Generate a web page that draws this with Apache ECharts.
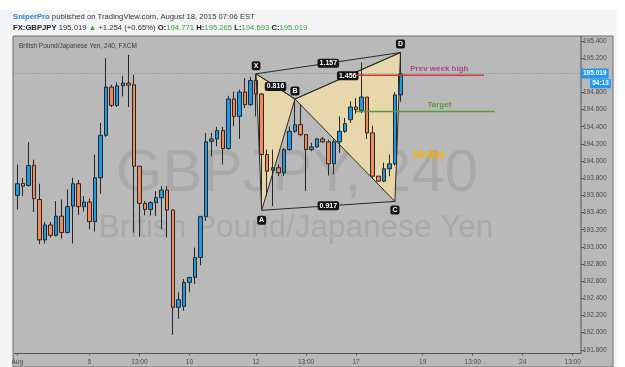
<!DOCTYPE html>
<html><head><meta charset="utf-8">
<script src="https://cdn.jsdelivr.net/npm/echarts@6/dist/echarts.min.js"></script>
<style>html,body{margin:0;padding:0;background:#fff;}#c{width:625px;height:367px;}</style>
</head><body><div id="c"></div>
<script>
// 4-hour slots (GBPJPY, FXCM), early Aug 2015 onwards
const categories = Array.from({length: 102}, (_, i) => String(i));
const tickIndex = [0, 13, 22, 31, 43, 52, 61, 73, 82, 91, 100];
const tickText  = ['Aug', '5', '13:00', '10', '12', '13:00', '17', '19', '13:00', '24', '13:00'];

const open  = [193.600,193.739,193.716,193.952,193.553,193.081,193.255,193.135,193.359,193.167,
               193.476,193.736,193.469,193.522,193.294,193.805,194.300,194.862,194.649,194.877,
               194.909,194.889,193.940,193.507,193.437,193.515,193.573,193.661,193.429,192.296,
               192.307,192.586,192.644,192.876,193.352,194.230,194.258,194.355,194.146,194.723,
               194.521,194.804,194.657,194.939,194.781,194.076,193.894,193.922,193.863,194.134,
               194.347,194.424,194.308,194.134,194.165,194.258,194.224,193.968,194.224,194.347,
               194.482,194.630,194.590,194.746,194.328,193.824,193.766,193.910,193.968,194.771];
const high  = [193.960,193.805,194.219,194.018,193.736,193.290,193.290,193.534,193.553,193.669,
               193.805,193.778,193.592,193.562,194.076,194.444,195.199,194.889,194.916,194.994,
               195.237,195.005,193.940,193.534,193.534,193.650,193.708,193.708,193.437,192.470,
               192.624,192.648,192.992,193.359,194.328,194.328,194.398,194.398,194.761,194.811,
               194.831,194.967,194.978,195.017,194.793,194.134,194.134,193.960,194.154,194.405,
               194.715,194.657,194.308,194.212,194.270,194.282,194.250,194.250,194.521,194.502,
               194.695,194.734,195.148,194.746,194.413,193.824,193.980,194.076,194.804,195.265];
const low   = [193.437,193.592,193.704,193.406,193.031,193.039,193.109,193.120,193.097,193.158,
               193.039,193.371,193.411,193.205,193.178,193.620,194.282,194.630,194.630,194.753,
               194.630,193.167,193.116,193.368,193.368,193.360,193.205,193.109,191.974,192.160,
               192.256,192.477,192.566,192.787,193.301,194.056,194.172,193.960,194.134,194.405,
               194.258,194.618,194.645,194.521,193.450,193.592,193.476,193.824,193.824,194.122,
               194.328,194.289,193.650,194.114,194.154,194.212,193.832,193.844,194.096,194.328,
               194.444,194.552,194.560,194.258,193.805,193.759,193.754,193.824,193.948,194.693];
const close = [193.736,193.708,193.948,193.562,193.081,193.255,193.135,193.359,193.167,193.469,
               193.736,193.469,193.522,193.294,193.805,194.300,194.862,194.649,194.877,194.909,
               194.885,193.940,193.507,193.437,193.515,193.573,193.661,193.429,192.296,192.384,
               192.586,192.644,192.876,193.352,194.224,194.258,194.355,194.146,194.723,194.521,
               194.804,194.657,194.939,194.781,194.076,193.882,193.922,193.863,194.134,194.347,
               194.424,194.308,194.134,194.165,194.258,194.224,193.968,194.224,194.347,194.436,
               194.630,194.599,194.746,194.328,193.824,193.766,193.910,193.968,194.771,195.019];

const priceMin = 191.6, priceMax = 195.6, priceStep = 0.2;
const lastPrice = 195.019;
const countdown = '54:13';

const pointNames = ['X', 'A', 'B', 'C', 'D'];
const pointIndex = [43, 44, 50, 68, 69];
const pointPrice = [195.017, 193.426, 194.723, 193.530, 195.265];
const ratioText  = ['0.816', '1.157', '1.456', '0.917'];   // X-B, X-D, B-D, A-C

const levelName  = ['Prev week high', 'Target'];
const levelPrice = [195.000, 194.579];
const levelFrom  = [61, 61];
const levelTo    = [84, 86];
const levelLabelAt = [76, 76];
const patternName = 'Alt Bat';
const patternLabelAt = [74, 194.07];

const tickMap = {}; tickIndex.forEach((k, j) => tickMap[k] = tickText[j]);
const candleData = open.map((o, i) => [o, close[i], low[i], high[i]]);
const pt = i => [pointIndex[i], pointPrice[i]];
const triData = [[0,1,2],[2,3,4]].map(t => [...pt(t[0]), ...pt(t[1]), ...pt(t[2])]);
const legData = [[0,2],[0,4],[2,4],[1,3]].map(p => [...pt(p[0]), ...pt(p[1])]);
const pointData = pointIndex.map((k, i) => [k, pointPrice[i]]);
const levelData = levelPrice.map((p, i) => [levelFrom[i], levelTo[i], p, levelLabelAt[i]]);

const FF = 'Liberation Sans';
const HF = 7.7;
const tag = (txt, x, y, fs) => ({type: 'text', x: x, y: y, z2: 20,
  style: {text: txt, fill: '#fff', fontSize: fs || 7, fontWeight: 'bold', fontFamily: FF,
          align: 'center', verticalAlign: 'middle', backgroundColor: '#151515',
          padding: [1, 2], borderRadius: 2}});

const chart = echarts.init(document.getElementById('c'));
chart.setOption({
  animation: false,
  backgroundColor: '#ffffff',
  textStyle: {fontFamily: FF},
  grid: [
    {left: 14.5, right: 44, top: 23.78, height: 344.4},
    {left: 14.5, right: 44, top: 352.5, height: 1}
  ],
  xAxis: [
    {type: 'category', gridIndex: 0, data: categories, boundaryGap: true, show: false},
    {type: 'category', gridIndex: 1, data: categories, boundaryGap: true,
     axisLine: {lineStyle: {color: '#555', width: 1}},
     axisTick: {show: true, alignWithLabel: true, length: 2, interval: i => tickMap[i] !== undefined, lineStyle: {color: '#555'}},
     axisLabel: {interval: i => tickMap[i] !== undefined, formatter: (v, i) => tickMap[i] || '',
                 fontSize: 6.5, color: '#4a4a4a', margin: 5, fontFamily: FF},
     splitLine: {show: false}}
  ],
  yAxis: [
    {type: 'value', gridIndex: 0, position: 'right', min: priceMin, max: priceMax, interval: priceStep,
     axisLine: {show: false}, splitLine: {show: false},
     axisTick: {show: true, length: 3, lineStyle: {color: '#555'}},
     axisLabel: {fontSize: 6.5, color: '#4a4a4a', margin: 2, fontFamily: FF,
                 formatter: v => (v < 191.7 || v > 195.5) ? '' : v.toFixed(3)}},
    {type: 'value', gridIndex: 1, show: false}
  ],
  graphic: [
    {type: 'rect', z: 0, shape: {x: 0, y: 10, width: 617, height: 357}, style: {fill: '#f3f4f6'}, silent: true},
    {type: 'rect', z: 0, shape: {x: 13, y: 36, width: 600, height: 331}, style: {fill: '#b9b9b9', stroke: '#6f6f6f', lineWidth: 1}, silent: true},
    {type: 'line', z: 1, shape: {x1: 581, y1: 36, x2: 581, y2: 353}, style: {stroke: '#555', lineWidth: 1}, silent: true},
    {type: 'text', z: 1, style: {x: 297, y: 174, text: 'GBPJPY, 240', fontSize: 60, fontFamily: FF, fill: 'rgba(0,0,0,0.085)', align: 'center', verticalAlign: 'middle'}, silent: true},
    {type: 'text', z: 1, style: {x: 296, y: 228, text: 'British Pound/Japanese Yen', fontSize: 31.5, fontFamily: FF, fill: 'rgba(0,0,0,0.085)', align: 'center', verticalAlign: 'middle'}, silent: true},
    {type: 'text', z: 5, style: {x: 19, y: 46, text: 'British Pound/Japanese Yen, 240, FXCM', fontSize: 6.5, fontFamily: FF, fill: '#3a3a3a', verticalAlign: 'middle'}},
    {type: 'rect', z: 100, shape: {x: 578, y: 14, width: 14, height: 20}, style: {fill: '#f3f4f6'}, silent: true},
    {type: 'text', z: 101, style: {x: 13, y: 16.5, text: '{n|SniperPro} published on TradingView.com, August 18, 2015 07:06 EST',
      fontSize: HF, fontFamily: FF, fill: '#333', verticalAlign: 'middle',
      rich: {n: {fill: '#2a86d3', fontSize: HF, fontFamily: FF, fontWeight: 'bold'}}}},
    {type: 'text', z: 101, style: {x: 13, y: 28, text: '{b|FX:GBPJPY} 195.019 {g|▲} +1.254 (+0.65%) {b|O:}{g|194.771} {b|H:}{g|195.265} {b|L:}{g|194.693} {b|C:}{g|195.019}',
      fontSize: HF, fontFamily: FF, fill: '#333', verticalAlign: 'middle',
      rich: {b: {fill: '#222', fontSize: HF, fontFamily: FF, fontWeight: 'bold'}, g: {fill: '#34a534', fontSize: HF, fontFamily: FF}}}},
    {type: 'text', z: 101, style: {x: 600.5, y: 83.7, text: countdown, fontSize: 6.5, fontFamily: FF, fill: '#fff', fontWeight: 'bold',
      backgroundColor: '#2196f3', padding: [1, 2], align: 'center', verticalAlign: 'middle'}}
  ],
  series: [
    {type: 'custom', name: 'pattern', xAxisIndex: 0, yAxisIndex: 0, z: 2, data: triData,
     encode: {x: [0, 2, 4], y: [1, 3, 5]},
     renderItem: (params, api) => {
       const pts = [0, 2, 4].map(k => api.coord([api.value(k), api.value(k + 1)]));
       return {type: 'polygon', shape: {points: pts}, style: {fill: 'rgba(242,222,168,0.8)', stroke: 'none'}};
     }},
    {type: 'candlestick', name: 'GBPJPY', xAxisIndex: 0, yAxisIndex: 0, z: 3, data: candleData, barWidth: 4,
     itemStyle: {color: '#1e9be8', color0: '#f28a5a', borderColor: '#262626', borderColor0: '#262626', borderWidth: 1},
     markLine: {silent: true, symbol: 'none', data: [{yAxis: lastPrice}],
       lineStyle: {color: '#4d94d8', type: [1, 2], width: 1},
       label: {position: 'end', distance: 0, formatter: () => lastPrice.toFixed(3), color: '#fff', fontSize: 6.5, fontWeight: 'bold',
               fontFamily: FF, backgroundColor: '#2196f3', padding: [1.5, 2]}}},
    {type: 'custom', name: 'edges', xAxisIndex: 0, yAxisIndex: 0, z: 4, data: triData,
     encode: {x: [0, 2, 4], y: [1, 3, 5]},
     renderItem: (params, api) => {
       const pts = [0, 2, 4].map(k => api.coord([api.value(k), api.value(k + 1)]));
       return {type: 'polygon', shape: {points: pts}, style: {fill: 'none', stroke: '#2a2a2a', lineWidth: 1}};
     }},
    {type: 'custom', name: 'legs', xAxisIndex: 0, yAxisIndex: 0, z: 5, data: legData,
     encode: {x: [0, 2], y: [1, 3]},
     renderItem: (params, api) => {
       const a = api.coord([api.value(0), api.value(1)]);
       const b = api.coord([api.value(2), api.value(3)]);
       return {type: 'group', children: [
         {type: 'line', shape: {x1: a[0], y1: a[1], x2: b[0], y2: b[1]}, style: {stroke: '#2a2a2a', lineWidth: 1}},
         tag(ratioText[params.dataIndex], (a[0] + b[0]) / 2, (a[1] + b[1]) / 2)
       ]};
     }},
    {type: 'custom', name: 'points', xAxisIndex: 0, yAxisIndex: 0, z: 6, data: pointData,
     renderItem: (params, api) => {
       const c = api.coord([api.value(0), api.value(1)]);
       const off = [-8, 10, -8, 8.5, -8.5][params.dataIndex];
       return tag(pointNames[params.dataIndex], c[0], c[1] + off);
     }},
    {type: 'custom', name: 'levels', xAxisIndex: 0, yAxisIndex: 0, z: 6, data: levelData,
     encode: {x: [0, 1, 3], y: 2},
     renderItem: (params, api) => {
       const i = params.dataIndex;
       const a = api.coord([api.value(0), api.value(2)]);
       const b = api.coord([api.value(1), api.value(2)]);
       const t = api.coord([api.value(3), api.value(2)]);
       return {type: 'group', children: [
         {type: 'line', shape: {x1: a[0], y1: a[1], x2: b[0], y2: b[1]}, style: {stroke: ['#d83535', '#5b9a3a'][i], lineWidth: 1.5}},
         {type: 'text', x: t[0], y: t[1] - 6.5, style: {text: levelName[i], fill: ['#b5457c', '#5a9a3a'][i], fontSize: 8, fontWeight: 'bold',
           fontFamily: FF, align: 'center', verticalAlign: 'middle'}}
       ]};
     }},
    {type: 'custom', name: 'patternName', xAxisIndex: 0, yAxisIndex: 0, z: 6, data: [patternLabelAt],
     renderItem: (params, api) => {
       const c = api.coord([api.value(0), api.value(1)]);
       return {type: 'text', x: c[0], y: c[1], style: {text: patternName, fill: '#f5b000', fontSize: 10, fontWeight: 'bold',
         fontFamily: FF, align: 'center', verticalAlign: 'middle'}};
     }}
  ]
});
</script>
</body></html>
